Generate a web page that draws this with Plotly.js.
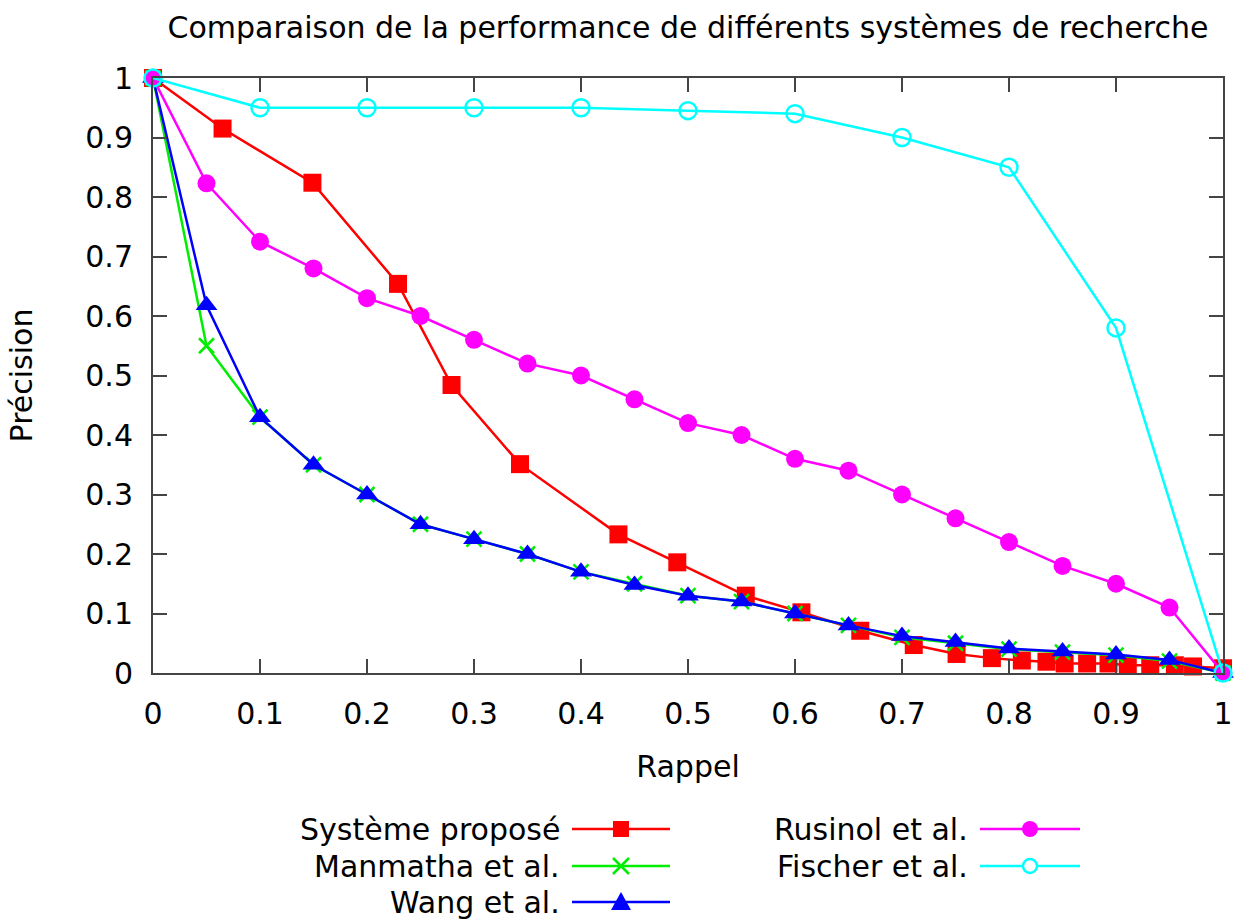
<!DOCTYPE html>
<html>
<head>
<meta charset="utf-8">
<script src="https://cdn.plot.ly/plotly-3.0.1.min.js"></script>
<style>html,body{margin:0;padding:0;background:#fff;}#chart{width:1245px;height:919px;}</style>
</head>
<body>
<div id="chart"></div>
<script>
// ---- data ----
const seriesNames = ["Système proposé", "Manmatha et al.", "Wang et al.", "Rusinol et al.", "Fischer et al."];

const proposeX = [0, 0.065, 0.149, 0.229, 0.279, 0.343, 0.435, 0.490, 0.554, 0.606, 0.661, 0.711, 0.751, 0.784, 0.812, 0.835, 0.852, 0.873, 0.893, 0.911, 0.932, 0.955, 0.972, 1.0];
const proposeY = [1, 0.915, 0.824, 0.654, 0.484, 0.351, 0.233, 0.186, 0.130, 0.102, 0.071, 0.047, 0.032, 0.025, 0.021, 0.019, 0.016, 0.016, 0.016, 0.013, 0.013, 0.013, 0.011, 0.008];

const rappel20 = [0, 0.05, 0.1, 0.15, 0.2, 0.25, 0.3, 0.35, 0.4, 0.45, 0.5, 0.55, 0.6, 0.65, 0.7, 0.75, 0.8, 0.85, 0.9, 0.95, 1.0];
const manmathaY = [1, 0.55, 0.43, 0.35, 0.30, 0.25, 0.225, 0.20, 0.17, 0.15, 0.13, 0.12, 0.10, 0.08, 0.06, 0.05, 0.04, 0.035, 0.03, 0.02, 0.0];
const wangY     = [1, 0.618, 0.43, 0.35, 0.30, 0.25, 0.225, 0.20, 0.17, 0.148, 0.13, 0.12, 0.10, 0.08, 0.062, 0.052, 0.041, 0.036, 0.031, 0.022, 0.0];
const rusinolY  = [1, 0.823, 0.725, 0.68, 0.63, 0.60, 0.56, 0.52, 0.50, 0.46, 0.42, 0.40, 0.36, 0.34, 0.30, 0.26, 0.22, 0.18, 0.15, 0.11, 0.0];

const fischerX = [0, 0.1, 0.2, 0.3, 0.4, 0.5, 0.6, 0.7, 0.8, 0.9, 1.0];
const fischerY = [1, 0.95, 0.95, 0.95, 0.95, 0.945, 0.94, 0.90, 0.85, 0.58, 0.0];

const tickVals = [0, 0.1, 0.2, 0.3, 0.4, 0.5, 0.6, 0.7, 0.8, 0.9, 1];
const tickText = ["0", "0.1", "0.2", "0.3", "0.4", "0.5", "0.6", "0.7", "0.8", "0.9", "1"];

// ---- styles ----
const FONT = "DejaVu Sans, Verdana, sans-serif";
const FS = 30;
const colors = ["#ff0000", "#00ee00", "#0000ff", "#ff00ff", "#00ffff"];
const markers = [
  {symbol: "square", size: 18},
  {symbol: "x-thin-open", size: 15, line: {width: 2.5, color: colors[1]}},
  {symbol: "triangle-up", size: 19},
  {symbol: "circle", size: 18},
  {symbol: "circle-open", size: 17, line: {width: 2.5, color: colors[4]}}
];

const xs = [proposeX, rappel20, rappel20, rappel20, fischerX];
const ys = [proposeY, manmathaY, wangY, rusinolY, fischerY];

const traces = seriesNames.map((n, i) => ({
  type: "scatter", mode: "lines+markers", name: n,
  x: xs[i], y: ys[i],
  line: {color: colors[i], width: 2.5},
  marker: Object.assign({color: colors[i]}, markers[i]),
  showlegend: false, cliponaxis: false
}));

// ---- custom gnuplot-style legend (text left, sample right) ----
const L = 153, T = 78, W = 1070, H = 595;
const px = v => (v - L) / W;
const py = v => (T + H - v) / H;
const legendCols = [{textRight: 562, lineL: 572, lineR: 670}, {textRight: 970, lineL: 980, lineR: 1080}];
const legendRows = [829, 866, 902];
const legendPos = [[0,0],[0,1],[0,2],[1,0],[1,1]];
const shapes = [], annotations = [];
seriesNames.forEach((n, i) => {
  const c = legendCols[legendPos[i][0]], r = legendRows[legendPos[i][1]];
  annotations.push({xref: "paper", yref: "paper", x: px(c.textRight), y: py(r), xanchor: "right", yanchor: "middle",
    text: n, showarrow: false, font: {family: FONT, size: FS, color: "#000"}});
  shapes.push({type: "line", xref: "paper", yref: "paper", x0: px(c.lineL), x1: px(c.lineR), y0: py(r), y1: py(r),
    line: {color: colors[i], width: 2.5}});
  const cx = (c.lineL + c.lineR) / 2, s = 8;
  if (i === 0) shapes.push({type: "rect", xref: "paper", yref: "paper", x0: px(cx - s), x1: px(cx + s), y0: py(r - s), y1: py(r + s), fillcolor: colors[i], line: {width: 0}});
  if (i === 1) shapes.push({type: "path", xref: "paper", yref: "paper",
    path: `M${px(cx-8)},${py(r-8)} L${px(cx+8)},${py(r+8)} M${px(cx-8)},${py(r+8)} L${px(cx+8)},${py(r-8)}`, line: {color: colors[i], width: 2.5}});
  if (i === 2) shapes.push({type: "path", xref: "paper", yref: "paper",
    path: `M${px(cx-10)},${py(r+8)} L${px(cx+10)},${py(r+8)} L${px(cx)},${py(r-10)} Z`, fillcolor: colors[i], line: {width: 0}});
  if (i === 3) shapes.push({type: "circle", xref: "paper", yref: "paper", x0: px(cx - 8), x1: px(cx + 8), y0: py(r - 8), y1: py(r + 8), fillcolor: colors[i], line: {width: 0}});
  if (i === 4) shapes.push({type: "circle", xref: "paper", yref: "paper", x0: px(cx - 7), x1: px(cx + 7), y0: py(r - 7), y1: py(r + 7), fillcolor: "#fff", line: {color: colors[i], width: 2.5}});
});

const axisCommon = {
  range: [0, 1], tickvals: tickVals, ticktext: tickText,
  ticks: "inside", ticklen: 14, tickwidth: 2, tickcolor: "#444",
  showline: true, linecolor: "#444", linewidth: 2, mirror: "ticks",
  showgrid: false, zeroline: false,
  tickfont: {family: FONT, size: FS, color: "#000"}
};

const layout = {
  width: 1245, height: 919,
  margin: {l: L, r: 1245 - L - W, t: T, b: 919 - T - H},
  paper_bgcolor: "#fff", plot_bgcolor: "#fff",
  title: {text: "Comparaison de la performance de différents systèmes de recherche",
    font: {family: FONT, size: FS, color: "#000"}, x: (688 / 1245), xanchor: "center", y: 1 - 27/919, yanchor: "middle"},
  xaxis: Object.assign({}, axisCommon, {ticklabelstandoff: 13,
    title: {text: "Rappel", font: {family: FONT, size: FS, color: "#000"}, standoff: 26}}),
  yaxis: Object.assign({}, axisCommon, {ticklabelstandoff: 12,
    title: {text: "Précision", font: {family: FONT, size: FS, color: "#000"}, standoff: 44}}),
  showlegend: false,
  shapes: shapes, annotations: annotations
};

Plotly.newPlot("chart", traces, layout, {displayModeBar: false, staticPlot: true});
</script>
</body>
</html>
